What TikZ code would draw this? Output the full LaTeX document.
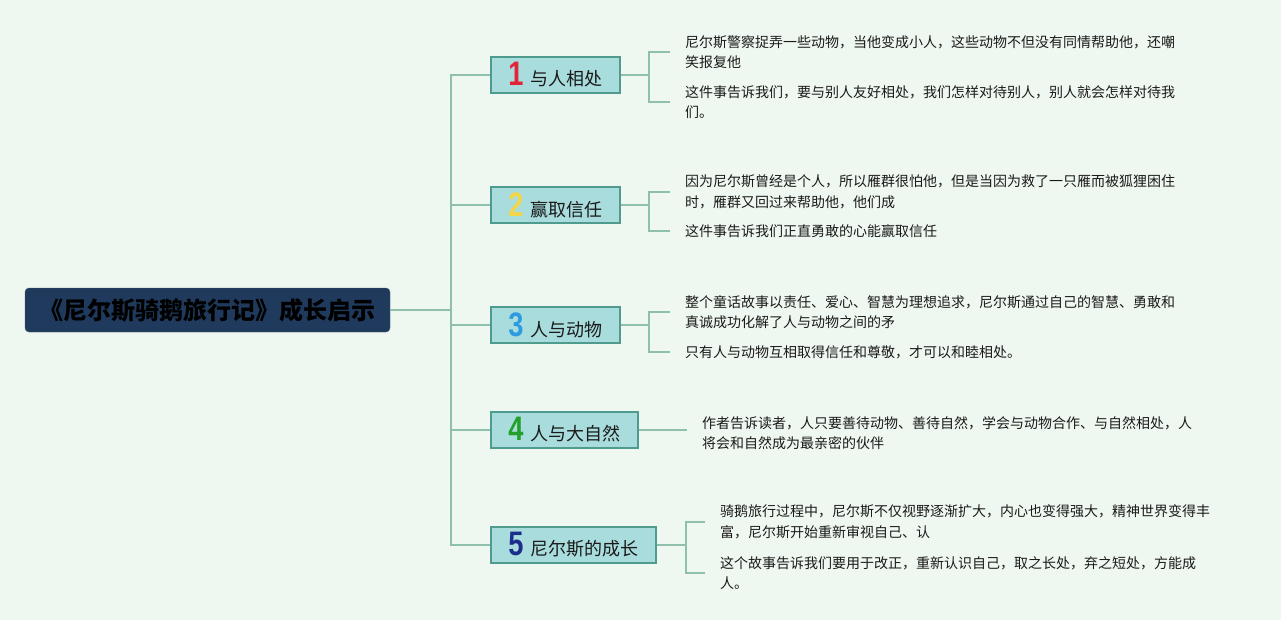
\documentclass[tikz,border=0pt]{standalone}
\usepackage{fontspec}
\setmainfont{Noto Sans CJK SC}
\newfontfamily\numfont[FakeStretch=0.8]{Liberation Sans}
\usepackage{tikz}
\definecolor{bg}{HTML}{EFF8F0}
\definecolor{navy}{HTML}{1F3A5C}
\definecolor{boxfill}{HTML}{A9DCDC}
\definecolor{boxline}{HTML}{4F9C8F}
\definecolor{lnk}{HTML}{8EC0AC}
\definecolor{txt}{HTML}{1A1A1A}
\definecolor{n1}{HTML}{E0243A}
\definecolor{n2}{HTML}{F4D64A}
\definecolor{n3}{HTML}{2E9BE0}
\definecolor{n4}{HTML}{22A02A}
\definecolor{n5}{HTML}{1C2E8C}
\newlength{\boxh}
\setlength{\boxh}{36pt}
\tikzset{root/.style = {shape=rectangle,rounded corners=4pt,fill=navy,draw=navy!85!white,minimum width=365pt,minimum height=44pt,font=\fontsize{24}{28}\selectfont\bfseries,text=black}}
\tikzset{topic/.style = {shape=rectangle,draw=boxline,line width=1.5pt,fill=boxfill,minimum height=\boxh,inner xsep=0pt,font=\fontsize{18}{22}\selectfont,text=txt}}
\tikzset{note/.style = {anchor=west,align=left,inner xsep=15pt,font=\fontsize{14}{20.5}\selectfont,text=txt}}
\tikzset{link/.style = {draw=lnk,line width=1.3pt}}
\newcommand{\topicnum}[2]{{\numfont\bfseries\fontsize{34}{34}\selectfont\textcolor{#1}{#2}}\hspace{7pt}}

\begin{document}
\begin{tikzpicture}[x=1pt,y=-1pt]
                \fill[bg] (0,0) rectangle (1281,620);
                \useasboundingbox (0,0) rectangle (1281,620);
                \node[root] (ctr) at (207.5,310) {《尼尔斯骑鹅旅行记》成长启示};
                \coordinate (hub) at (451,310);
                \draw[link] (ctr) -- (hub);
                \node[topic,minimum width=129pt] (b1) at (555.5,75) {\topicnum{n1}{1}与人相处};
                \draw[link] (b1.west) -| (hub);
                \node[topic,minimum width=129pt] (b2) at (555.5,205) {\topicnum{n2}{2}赢取信任};
                \draw[link] (b2.west) -| (hub);
                \node[topic,minimum width=129pt] (b3) at (555.5,325) {\topicnum{n3}{3}人与动物};
                \draw[link] (b3.west) -- (hub |- b3.west);
                \node[topic,minimum width=147pt] (b4) at (564.5,430) {\topicnum{n4}{4}人与大自然};
                \draw[link] (b4.west) -| (hub);
                \node[topic,minimum width=165pt] (b5) at (573.5,545) {\topicnum{n5}{5}尼尔斯的成长};
                \draw[link] (b5.west) -| (hub);
                % 1
                \coordinate (j1) at (649,75);
                \draw[link] (b1) -- (j1);
                \node[note] (t11) at (670,52) {尼尔斯警察捉弄一些动物，当他变成小人，这些动物不但没有同情帮助他，还嘲\\笑报复他};
                \draw[link] (t11.west) -| (j1);
                \node[note] (t12) at (670,102) {这件事告诉我们，要与别人友好相处，我们怎样对待别人，别人就会怎样对待我\\们。};
                \draw[link] (t12.west) -| (j1);
                % 2
                \coordinate (j2) at (649,205);
                \draw[link] (b2) -- (j2);
                \node[note] (t21) at (670,192) {因为尼尔斯曾经是个人，所以雁群很怕他，但是当因为救了一只雁而被狐狸困住\\时，雁群又回过来帮助他，他们成};
                \draw[link] (t21.west) -| (j2);
                \node[note] (t22) at (670,231) {这件事告诉我们正直勇敢的心能赢取信任};
                \draw[link] (t22.west) -| (j2);
                % 3
                \coordinate (j3) at (649,325);
                \draw[link] (b3) -- (j3);
                \node[note] (t31) at (670,312) {整个童话故事以责任、爱心、智慧为理想追求，尼尔斯通过自己的智慧、勇敢和\\真诚成功化解了人与动物之间的矛};
                \draw[link] (t31.west) -| (j3);
                \node[note] (t32) at (670,352) {只有人与动物互相取得信任和尊敬，才可以和睦相处。};
                \draw[link] (t32.west) -| (j3);
                % 4
                \node[note] (t4) at (687,433) {作者告诉读者，人只要善待动物、善待自然，学会与动物合作、与自然相处，人\\将会和自然成为最亲密的伙伴};
                \draw[link] (b4) -- (b4 -| t4.west);
                % 5
                \coordinate (j5) at (686,545);
                \draw[link] (b5) -- (j5);
                \node[note] (t51) at (705,522) {骑鹅旅行过程中，尼尔斯不仅视野逐渐扩大，内心也变得强大，精神世界变得丰\\富，尼尔斯开始重新审视自己、认};
                \draw[link] (t51.west) -| (j5);
                \node[note] (t52) at (705,573) {这个故事告诉我们要用于改正，重新认识自己，取之长处，弃之短处，方能成\\人。};
                \draw[link] (t52.west) -| (j5);
            \end{tikzpicture}
\end{document}
